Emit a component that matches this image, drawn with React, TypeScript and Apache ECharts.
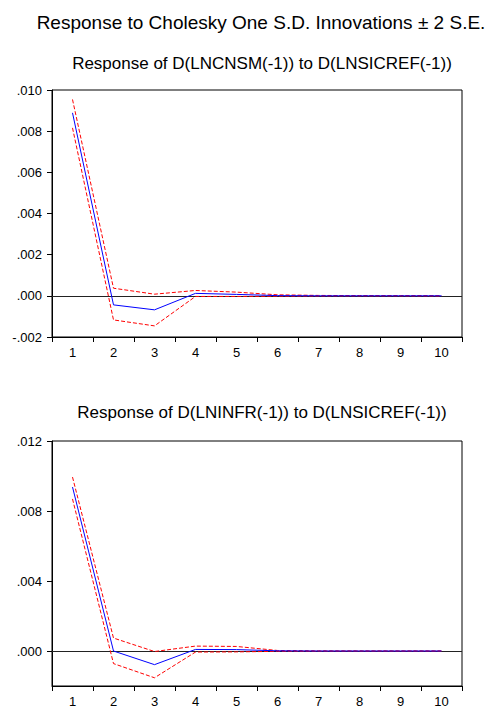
import React, { useEffect, useRef } from "react";
import * as echarts from "echarts";

const periods = ["1", "2", "3", "4", "5", "6", "7", "8", "9", "10"];

const mainTitle = "Response to Cholesky One S.D. Innovations \u00b1 2 S.E.";
const title1 = "Response of D(LNCNSM(-1)) to D(LNSICREF(-1))";
const title2 = "Response of D(LNINFR(-1)) to D(LNSICREF(-1))";

const cnsmResp = [0.00889, -0.00044, -0.00068, 0.00012, 0.00007, 0.00001, 0.0, 0.0, 0.0, 0.0];
const cnsmUpper = [0.00954, 0.00037, 0.00008, 0.00026, 0.00018, 0.00005, 0.00002, 0.00001, 0.00001, 0.0];
const cnsmLower = [0.00816, -0.00117, -0.00146, -0.00003, -0.00003, -0.00002, -0.00001, 0.0, 0.0, 0.0];

const infrResp = [0.00937, 0.0, -0.00078, 0.00009, 0.00008, 0.00001, 0.0, 0.0, 0.0, 0.0];
const infrUpper = [0.00994, 0.00074, -0.00003, 0.00028, 0.00026, 0.00003, 0.00001, 0.0, 0.0, 0.0];
const infrLower = [0.00869, -0.00072, -0.00153, -0.00006, -0.00005, -0.00002, -0.00001, 0.0, 0.0, 0.0];

const yTicks2 = [0, 0.004, 0.008, 0.012];

const FONT = "'Liberation Sans', Arial, Helvetica, sans-serif";

const fmt = (v: number) => {
  const s = Math.abs(v).toFixed(3).replace(/^0/, "");
  return (v < -1e-9 ? "-" : "") + s;
};

export default function App() {
  const ref = useRef<HTMLDivElement>(null);
  useEffect(() => {
    if (!ref.current) return;
    const chart = echarts.init(ref.current, undefined, { renderer: "svg" });

    const xAxisBase = (gridIndex: number) => ({
      type: "category",
      gridIndex,
      data: periods,
      boundaryGap: true,
      axisLine: { show: true, onZero: false, lineStyle: { color: "#000", width: 1 } },
      axisTick: { show: true, inside: false, length: 5, lineStyle: { color: "#000" } },
      axisLabel: { color: "#000", fontFamily: FONT, fontSize: 13, margin: 9 },
      splitLine: { show: false },
    });

    const lineSeries = (
      name: string,
      data: number[],
      idx: number,
      color: string,
      dashed: boolean,
      zeroLine: boolean
    ) => ({
      name,
      type: "line",
      xAxisIndex: idx,
      yAxisIndex: idx,
      data,
      symbol: "none",
      lineStyle: { color, width: 1, type: dashed ? [4, 2] : "solid" },
      z: dashed ? 3 : 4,
      markLine: zeroLine
        ? {
            silent: true,
            symbol: "none",
            label: { show: false },
            lineStyle: { color: "#222", width: 1, type: "solid" },
            data: [{ yAxis: 0 }],
            z: 1,
          }
        : undefined,
    });

    chart.setOption({
      animation: false,
      backgroundColor: "#fff",
      title: [
        {
          text: mainTitle,
          left: 256,
          top: 8,
          textAlign: "center",
          textStyle: { fontFamily: FONT, fontSize: 19, fontWeight: "normal", color: "#000" },
        },
        {
          text: title1,
          left: 257,
          top: 50,
          textAlign: "center",
          textStyle: { fontFamily: FONT, fontSize: 17, fontWeight: "normal", color: "#000" },
        },
        {
          text: title2,
          left: 257,
          top: 399,
          textAlign: "center",
          textStyle: { fontFamily: FONT, fontSize: 17, fontWeight: "normal", color: "#000" },
        },
      ],
      grid: [
        { left: 52, top: 90, width: 410, height: 247, show: true, borderColor: "#000", borderWidth: 1, backgroundColor: "transparent" },
        { left: 52, top: 441, width: 410, height: 246, show: true, borderColor: "#000", borderWidth: 1, backgroundColor: "transparent" },
      ],
      xAxis: [xAxisBase(0), xAxisBase(1)],
      yAxis: [
        {
          type: "value",
          gridIndex: 0,
          min: -0.002,
          max: 0.01,
          interval: 0.002,
          axisLine: { show: true, lineStyle: { color: "#000" } },
          axisTick: { show: true, inside: false, length: 5, lineStyle: { color: "#000" } },
          axisLabel: { color: "#000", fontFamily: FONT, fontSize: 13, margin: 10, formatter: fmt },
          splitLine: { show: false },
        },
        {
          type: "value",
          gridIndex: 1,
          min: -0.002,
          max: 0.012,
          axisLine: { show: true, lineStyle: { color: "#000" } },
          axisTick: { show: true, inside: false, length: 5, lineStyle: { color: "#000" }, customValues: yTicks2 },
          axisLabel: { color: "#000", fontFamily: FONT, fontSize: 13, margin: 10, formatter: fmt, customValues: yTicks2 },
          splitLine: { show: false },
        },
      ],
      series: [
        lineSeries("cnsmUpper", cnsmUpper, 0, "#ff0000", true, true),
        lineSeries("cnsmLower", cnsmLower, 0, "#ff0000", true, false),
        lineSeries("cnsmResp", cnsmResp, 0, "#0000ff", false, false),
        lineSeries("infrUpper", infrUpper, 1, "#ff0000", true, true),
        lineSeries("infrLower", infrLower, 1, "#ff0000", true, false),
        lineSeries("infrResp", infrResp, 1, "#0000ff", false, false),
      ],
    });
    return () => chart.dispose();
  }, []);
  return (
    <div
      ref={ref}
      style={{ position: "fixed", left: 0, top: 0, width: 486, height: 708, background: "#fff" }}
    />
  );
}
